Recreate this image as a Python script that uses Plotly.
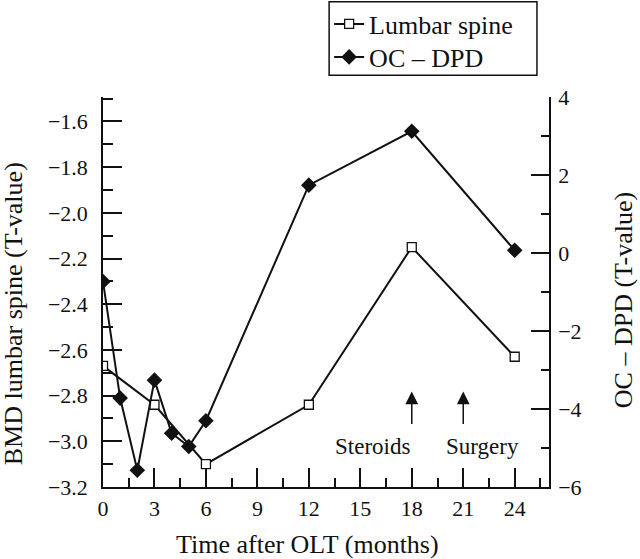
import plotly.graph_objects as go

# months after transplantation
lumbar_months = [0, 3, 6, 12, 18, 24]
lumbar_t = [-2.67, -2.84, -3.10, -2.84, -2.15, -2.63]

ocdpd_months = [0, 1, 2, 3, 4, 5, 6, 12, 18, 24]
ocdpd_t = [-0.73, -3.72, -5.57, -3.26, -4.62, -4.96, -4.30, 1.74, 3.12, 0.07]

events = ["Steroids", "Surgery"]
event_months = [18, 21]

FONT = "Liberation Serif"
INK = "#111111"

fig = go.Figure()

fig.add_trace(
    go.Scatter(
        x=lumbar_months,
        y=lumbar_t,
        name="Lumbar spine",
        mode="lines+markers",
        line=dict(color=INK, width=2),
        marker=dict(symbol="square", size=9, color="white", line=dict(color=INK, width=1.3)),
        yaxis="y",
        legend="legend",
    )
)

fig.add_trace(
    go.Scatter(
        x=ocdpd_months,
        y=ocdpd_t,
        name="OC \u2013 DPD",
        mode="lines+markers",
        line=dict(color=INK, width=2),
        marker=dict(symbol="diamond", size=12, color=INK),
        yaxis="y2",
        legend="legend2",
    )
)

tickfont = dict(family=FONT, size=22, color=INK)
legend_font = dict(family=FONT, size=26, color=INK)

# one legend per row so the rows sit as close as in the original
legend_common = dict(
    x=0.507,
    xanchor="left",
    yanchor="middle",
    bgcolor="rgba(0,0,0,0)",
    borderwidth=0,
    font=legend_font,
)

fig.update_layout(
    width=640,
    height=559,
    margin=dict(l=103, r=91, t=97, b=72, autoexpand=False),
    paper_bgcolor="white",
    plot_bgcolor="white",
    font=dict(family=FONT, color=INK),
    showlegend=True,
    legend=dict(y=1.1872, **legend_common),
    legend2=dict(y=1.1026, **legend_common),
    xaxis=dict(
        range=[0, 26],
        tick0=0,
        dtick=3,
        ticks="inside",
        ticklen=19,
        tickwidth=1.5,
        tickcolor=INK,
        minor=dict(ticks="inside", ticklen=9, dtick=1.5, tick0=0, tickwidth=1.5, tickcolor=INK),
        showline=True,
        linecolor=INK,
        linewidth=1.5,
        showgrid=False,
        zeroline=False,
        tickfont=tickfont,
        ticklabelstandoff=1,
    ),
    yaxis=dict(
        range=[-3.2, -1.493],
        tick0=-3.2,
        dtick=0.2,
        tickformat=".1f",
        ticks="inside",
        ticklen=19,
        tickwidth=1.5,
        tickcolor=INK,
        minor=dict(ticks="inside", ticklen=10, dtick=0.1, tick0=-3.2, tickwidth=1.5, tickcolor=INK),
        showline=True,
        linecolor=INK,
        linewidth=1.5,
        showgrid=False,
        zeroline=False,
        tickfont=tickfont,
        ticklabelstandoff=9,
    ),
    yaxis2=dict(
        range=[-6, 4],
        tick0=-6,
        dtick=2,
        overlaying="y",
        side="right",
        ticks="inside",
        ticklen=18,
        tickwidth=1.5,
        tickcolor=INK,
        minor=dict(ticks="inside", ticklen=8, dtick=1, tick0=-6, tickwidth=1.5, tickcolor=INK),
        showline=True,
        linecolor=INK,
        linewidth=1.5,
        showgrid=False,
        zeroline=False,
        tickfont=tickfont,
        ticklabelstandoff=3,
    ),
)

# frame around the two legend rows
fig.add_shape(
    type="rect", xref="paper", yref="paper",
    x0=0.507, x1=0.973, y0=1.056, y1=1.244,
    line=dict(color=INK, width=1.5), fillcolor="rgba(0,0,0,0)",
)

title_font = dict(family=FONT, size=26, color=INK)

# axis titles placed as annotations to follow the original placement
fig.add_annotation(
    text="Time after OLT (months)", xref="paper", yref="paper",
    x=0.4585, y=-0.1487, showarrow=False, font=title_font,
    xanchor="center", yanchor="middle",
)
fig.add_annotation(
    text="BMD lumbar spine (T-value)", xref="paper", yref="paper",
    x=-0.2, y=0.445, showarrow=False, font=title_font, textangle=-90,
    xanchor="center", yanchor="middle",
)
fig.add_annotation(
    text="OC \u2013 DPD (T-value)", xref="paper", yref="paper",
    x=1.166, y=0.479, showarrow=False, font=title_font, textangle=-90,
    xanchor="center", yanchor="middle",
)

# event arrows and labels
label_x = [15.73, 22.14]
for name, m, lx in zip(events, event_months, label_x):
    fig.add_annotation(
        x=m, y=0.245, xref="x", yref="paper", text="",
        showarrow=True, ax=0, ay=34, arrowhead=2, arrowsize=1.7,
        arrowwidth=1.5, arrowcolor=INK,
    )
    fig.add_annotation(
        x=lx, y=0.105, xref="x", yref="paper", text=name,
        showarrow=False, font=dict(family=FONT, size=23, color=INK),
        xanchor="center", yanchor="middle",
    )

# the page body has an 8px default margin; drop it so the figure fills the window
fig.write_html(
    "out.html",
    config={"displayModeBar": False},
    post_script="document.body.style.margin = '0';",
)
